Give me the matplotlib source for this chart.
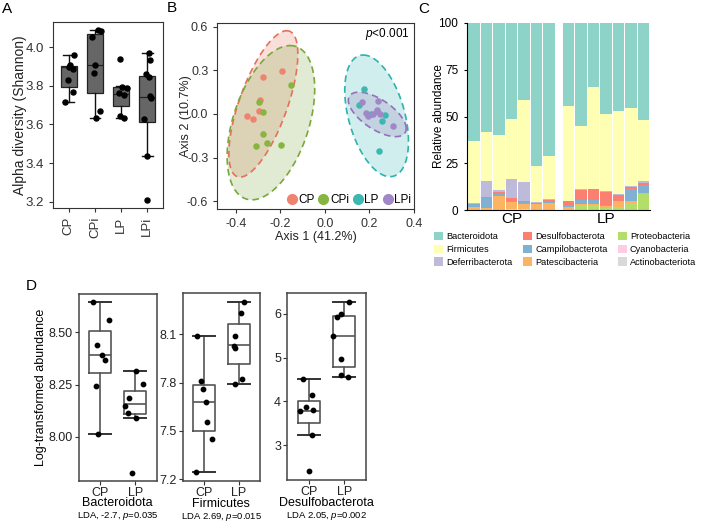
import numpy as np
import matplotlib
matplotlib.use('Agg')
import matplotlib.pyplot as plt
from matplotlib.patches import Patch
from matplotlib.lines import Line2D

plt.rcParams['font.family'] = ['Liberation Sans', 'DejaVu Sans']
plt.rcParams['mathtext.fontset'] = 'custom'
plt.rcParams['mathtext.rm'] = 'Liberation Sans'
plt.rcParams['mathtext.it'] = 'Liberation Sans:italic'

#   Panel A - alpha diversity (Shannon)
groups_a = ['CP', 'CPi', 'LP', 'LPi']
shannon_pts = [
    [3.957, 3.905, 3.895, 3.889, 3.829, 3.766, 3.718],
    [4.088, 4.085, 4.05, 3.906, 3.867, 3.668, 3.635],
    [3.94, 3.795, 3.79, 3.76, 3.752, 3.643, 3.633],
    [3.97, 3.932, 3.863, 3.843, 3.745, 3.735, 3.626, 3.435, 3.209],
]
# whislo, q1, median, q3, whishi
shannon_box = [
    [3.718, 3.794, 3.895, 3.901, 3.957],
    [3.635, 3.765, 3.906, 4.066, 4.088],
    [3.633, 3.693, 3.759, 3.794, 3.800],
    [3.435, 3.612, 3.742, 3.849, 3.970],
]
jit_a = [
    [0.19, 0.06, 0.0, 0.17, -0.03, 0.17, -0.14],
    [0.13, 0.22, -0.13, 0.0, -0.04, 0.18, 0.03],
    [-0.06, 0.05, 0.22, -0.08, 0.10, -0.05, 0.12],
    [0.06, 0.09, -0.04, 0.06, 0.09, 0.15, -0.13, 0.0, 0.0],
]

#   Panel B - PCoA
groups_b = ['CP', 'CPi', 'LP', 'LPi']
pc1 = [
    [-0.195, -0.28, -0.292, -0.295, -0.349, -0.324],
    [-0.153, -0.297, -0.28, -0.279, -0.261, -0.31, -0.198],
    [0.177, 0.154, 0.244, 0.271, 0.255, 0.232, 0.205],
    [0.168, 0.24, 0.183, 0.195, 0.215, 0.232, 0.247, 0.307],
]
pc2 = [
    [0.297, 0.251, 0.099, 0.021, -0.016, -0.032],
    [0.198, 0.083, 0.012, -0.135, -0.2, -0.218, -0.214],
    [0.17, 0.06, -0.257, -0.009, -0.048, 0.02, 0.0],
    [0.083, 0.088, 0.007, -0.016, 0.0, 0.03, 0.0, -0.083],
]
# ellipse: centre, conjugate semi-diameters
ell_center = [(-0.277, 0.069), (-0.243, -0.06), (0.232, -0.013), (0.235, -0.003)]
ell_m1 = [(0.105, 0.503), (0.086, 0.53), (-0.06, 0.418), (0.13, -0.097)]
ell_m2 = [(0.114, 0.0), (0.177, 0.0), (0.13, 0.0), (0.0, 0.118)]

#   Panel C - relative abundance, 7 CP + 7 LP samples
phyla = ['Bacteroidota', 'Firmicutes', 'Deferribacterota', 'Desulfobacterota',
         'Campilobacterota', 'Patescibacteria', 'Proteobacteria', 'Cyanobacteria',
         'Actinobacteriota']
bacteroidota = [63.1, 58.4, 59.7, 51.5, 41.0, 76.5, 71.1, 44.4, 55.2, 34.3, 48.8, 47.1, 45.5, 51.9]
firmicutes = [33.1, 26.0, 29.3, 31.8, 44.1, 19.2, 23.0, 50.6, 33.6, 54.2, 41.0, 44.4, 41.7, 32.7]
deferribacterota = [0.3, 8.7, 1.3, 10.3, 9.8, 0.3, 0.5, 0.2, 0.2, 0.2, 0.2, 0.2, 0.2, 0.6]
desulfobacterota = [0.3, 0.3, 0.8, 1.2, 0.8, 0.4, 0.8, 2.0, 5.3, 5.6, 7.3, 3.4, 1.4, 1.3]
campilobacterota = [1.3, 5.5, 1.5, 1.0, 1.2, 0.3, 0.8, 0.9, 2.5, 2.5, 0.2, 0.2, 6.4, 4.4]
patescibacteria = [1.5, 0.8, 6.8, 3.6, 2.5, 3.0, 3.5, 1.4, 0.3, 0.3, 1.4, 2.8, 0.7, 0.2]
proteobacteria = [0.2, 0.1, 0.3, 0.1, 0.1, 0.1, 0.1, 0.1, 2.6, 2.6, 0.9, 1.7, 3.8, 8.5]
cyanobacteria = [0.0, 0.0, 0.0, 0.0, 0.0, 0.0, 0.0, 0.0, 0.0, 0.0, 0.0, 0.0, 0.0, 0.1]
actinobacteriota = [0.2, 0.2, 0.3, 0.5, 0.5, 0.2, 0.2, 0.4, 0.3, 0.3, 0.2, 0.2, 0.3, 0.3]
phyla_colors = ['#8DD3C7', '#FFFFB3', '#BEBADA', '#FB8072', '#80B1D3', '#FDB462',
                '#B3DE69', '#FCCDE5', '#D9D9D9']

#   Panel D - discriminant taxa
taxa = ['Bacteroidota', 'Firmicutes', 'Desulfobacterota']
lda_text = ['LDA, -2.7, $p$=0.035', 'LDA 2.69, $p$=0.015', 'LDA 2.05, $p$=0.002']
d_cp = [
    [8.643, 8.56, 8.441, 8.39, 8.368, 8.243, 8.015],
    [8.091, 7.81, 7.758, 7.678, 7.557, 7.45, 7.243],
    [4.5, 4.15, 3.86, 3.77, 3.80, 3.22, 2.41],
]
d_lp = [
    [8.315, 8.253, 8.186, 8.148, 8.115, 8.092, 7.829],
    [8.303, 8.232, 8.089, 8.029, 8.017, 7.822, 7.793],
    [6.28, 6.0, 5.93, 5.49, 4.96, 4.6, 4.55],
]
d_box_cp = [
    [8.015, 8.307, 8.391, 8.506, 8.643],
    [7.247, 7.501, 7.681, 7.785, 8.091],
    [3.22, 3.50, 3.78, 4.016, 4.50],
]
d_box_lp = [
    [8.092, 8.108, 8.157, 8.219, 8.315],
    [7.793, 7.917, 8.033, 8.164, 8.303],
    [4.55, 4.78, 5.49, 5.96, 6.28],
]
d_ticks = [[8.00, 8.25, 8.50], [7.2, 7.5, 7.8, 8.1], [3, 4, 5, 6]]
d_ticklabels = [['8.00', '8.25', '8.50'], ['7.2', '7.5', '7.8', '8.1'], ['3', '4', '5', '6']]
d_ylim = [(7.791, 8.683), (7.188, 8.355), (2.2, 6.47)]
jit_cp = [
    [-0.19, 0.26, -0.07, 0.06, 0.15, -0.11, -0.06],
    [-0.19, -0.09, -0.03, 0.06, 0.09, 0.23, -0.22],
    [-0.16, 0.10, -0.08, -0.23, 0.11, 0.09, 0.0],
]
jit_lp = [
    [0.03, 0.21, -0.17, -0.30, -0.22, 0.03, -0.09],
    [0.15, 0.07, -0.10, -0.15, -0.11, 0.09, -0.12],
    [0.14, -0.08, -0.21, -0.33, -0.10, -0.09, 0.10],
]

W, H = 702, 523
fig = plt.figure(figsize=(W / 100, H / 100), dpi=100)


def rect(l, t, r, b):
    return [l / W, 1 - b / H, (r - l) / W, (b - t) / H]


def stats(v, label=''):
    return dict(whislo=v[0], q1=v[1], med=v[2], q3=v[3], whishi=v[4], fliers=[], label=label)


# ---------------- A
axA = fig.add_axes(rect(53, 22, 163, 207.5))
axA.bxp([stats(s, g) for s, g in zip(shannon_box, groups_a)], positions=[1, 2, 3, 4],
        widths=0.6, capwidths=0.4, patch_artist=True, showfliers=False,
        boxprops=dict(facecolor='#666666', edgecolor='#222222', linewidth=0.9),
        medianprops=dict(color='#222222', linewidth=0.9),
        whiskerprops=dict(color='#111111', linewidth=1.0),
        capprops=dict(color='#111111', linewidth=1.0))
for i, pts in enumerate(shannon_pts):
    axA.scatter(np.full(len(pts), i + 1) + np.array(jit_a[i]), pts, s=13, color='black', zorder=5)
axA.set_xlim(0.4, 4.6)
axA.set_ylim(3.17, 4.13)
axA.set_yticks([3.2, 3.4, 3.6, 3.8, 4.0])
axA.set_yticklabels(['3.2', '3.4', '3.6', '3.8', '4.0'])
axA.set_xticks([1, 2, 3, 4])
axA.set_xticklabels(groups_a, rotation=90)
axA.tick_params(labelsize=9.5, length=3, color='#333333', labelcolor='#333333')
axA.set_ylabel('Alpha diversity (Shannon)', fontsize=10, color='#222222')
axA.yaxis.set_label_coords(-0.236, 0.5)
for sp in axA.spines.values():
    sp.set_color('#333333')

# ---------------- B
axB = fig.add_axes(rect(217.3, 23, 414, 209))
pt_colors = ['#EE8470', '#86B540', '#3DB8B0', '#A088C8']
ell_edge = ['#E8705A', '#79A83A', '#2BB3B0', '#9470B8']
t = np.linspace(0, 2 * np.pi, 300)
for c, m1, m2, col in zip(ell_center, ell_m1, ell_m2, ell_edge):
    ex = c[0] + m1[0] * np.cos(t) + m2[0] * np.sin(t)
    ey = c[1] + m1[1] * np.cos(t) + m2[1] * np.sin(t)
    axB.fill(ex, ey, color=col, alpha=0.22, lw=0)
    axB.plot(ex, ey, color=col, lw=1.2, ls=(0, (4, 2.5)))
for xs, ys, col in zip(pc1, pc2, pt_colors):
    axB.scatter(xs, ys, s=22, color=col, zorder=5, lw=0)
axB.set_xlim(-0.484, 0.40)
axB.set_ylim(-0.653, 0.625)
axB.set_xticks([-0.4, -0.2, 0.0, 0.2, 0.4])
axB.set_xticklabels(['-0.4', '-0.2', '0.0', '0.2', '0.4'])
axB.set_yticks([-0.6, -0.3, 0.0, 0.3, 0.6])
axB.set_yticklabels(['-0.6', '-0.3', '0.0', '0.3', '0.6'])
axB.tick_params(labelsize=9, length=3, color='#333333', labelcolor='#333333')
axB.set_xlabel('Axis 1 (41.2%)', fontsize=9, color='#222222', labelpad=1)
axB.set_ylabel('Axis 2 (10.7%)', fontsize=9, color='#222222')
axB.yaxis.set_label_coords(-0.13, 0.5)
axB.text(0.98, 0.94, '$p$<0.001', transform=axB.transAxes, ha='right', va='center', fontsize=8.5)
handles_b = [Line2D([], [], marker='o', ls='', color=c, markersize=7) for c in pt_colors]
axB.legend(handles_b, groups_b, loc='lower right', ncol=4, frameon=False, fontsize=8.5,
           handlelength=0.8, handletextpad=0.15, columnspacing=0.35,
           borderaxespad=0.15, borderpad=0.1)
for sp in axB.spines.values():
    sp.set_color('#333333')

# ---------------- C
axC = fig.add_axes(rect(466.7, 22.7, 650, 210.3))
xpos = np.concatenate([np.arange(7), np.arange(7) + 7.56])
layers = [actinobacteriota, cyanobacteria, proteobacteria, patescibacteria, campilobacterota,
          desulfobacterota, deferribacterota, firmicutes, bacteroidota]
layer_colors = phyla_colors[::-1]
bottom = np.zeros(len(xpos))
for vals, col in zip(layers, layer_colors):
    axC.bar(xpos, vals, bottom=bottom, width=0.92, color=col, lw=0)
    bottom += np.array(vals)
axC.set_xlim(-0.58, 14.06)
axC.set_ylim(0, 100)
axC.set_yticks([0, 25, 50, 75, 100])
axC.set_xticks([3, 10.56])
axC.set_xticklabels(['CP', 'LP'], fontsize=11)
axC.tick_params(axis='x', length=0, pad=1)
axC.tick_params(axis='y', labelsize=8.5, length=2.5)
axC.set_ylabel('Relative abundance', fontsize=8.5)
axC.yaxis.set_label_coords(-0.118, 0.5)
axC.spines['top'].set_visible(False)
axC.spines['right'].set_visible(False)
handles_c = [Patch(facecolor=c, edgecolor='none') for c in phyla_colors]
fig.legend(handles_c, phyla, loc='upper left', bbox_to_anchor=(434 / W, 1 - 232 / H), ncol=3,
           frameon=False, fontsize=6.6, handlelength=1.0, handleheight=1.0,
           handletextpad=0.35, labelspacing=0.38, columnspacing=1.1, borderpad=0, borderaxespad=0)

# ---------------- D
d_rects = [(78.7, 294, 156.7, 480.7), (182.7, 293.3, 260, 481), (287.3, 293.3, 365.7, 480)]
for k in range(3):
    ax = fig.add_axes(rect(*d_rects[k]))
    ax.bxp([stats(d_box_cp[k], 'CP'), stats(d_box_lp[k], 'LP')], positions=[1, 2],
           widths=0.62, capwidths=0.62, showfliers=False,
           boxprops=dict(color='#555555', linewidth=1.2),
           medianprops=dict(color='#555555', linewidth=1.2),
           whiskerprops=dict(color='#555555', linewidth=1.2),
           capprops=dict(color='#333333', linewidth=1.4))
    ax.scatter(1 + np.array(jit_cp[k]), d_cp[k], s=10, color='black', zorder=5)
    ax.scatter(2 + np.array(jit_lp[k]), d_lp[k], s=10, color='black', zorder=5)
    ax.set_xlim(0.4, 2.6)
    ax.set_ylim(*d_ylim[k])
    ax.set_yticks(d_ticks[k])
    ax.set_yticklabels(d_ticklabels[k])
    ax.set_xticks([1, 2])
    ax.set_xticklabels(['CP', 'LP'])
    ax.tick_params(labelsize=9, length=3, color='#333333', labelcolor='#222222', pad=1.5)
    for sp in ax.spines.values():
        sp.set_color('#444444')
        sp.set_linewidth(1.1)
    ax.text(0.5, -0.122, taxa[k], transform=ax.transAxes, ha='center', va='center', fontsize=9)
    ax.text(0.5, -0.188, lda_text[k], transform=ax.transAxes, ha='center', va='center', fontsize=6.8)
    if k == 0:
        ax.set_ylabel('Log-transformed abundance', fontsize=9)
        ax.yaxis.set_label_coords(-0.41, 0.5)

# panel letters
for lab, x, y in [('A', 7, 9), ('B', 172, 8), ('C', 424, 9), ('D', 31, 286)]:
    fig.text(x / W, 1 - y / H, lab, fontsize=11, ha='center', va='center')

fig.savefig('out.png', dpi=100)
